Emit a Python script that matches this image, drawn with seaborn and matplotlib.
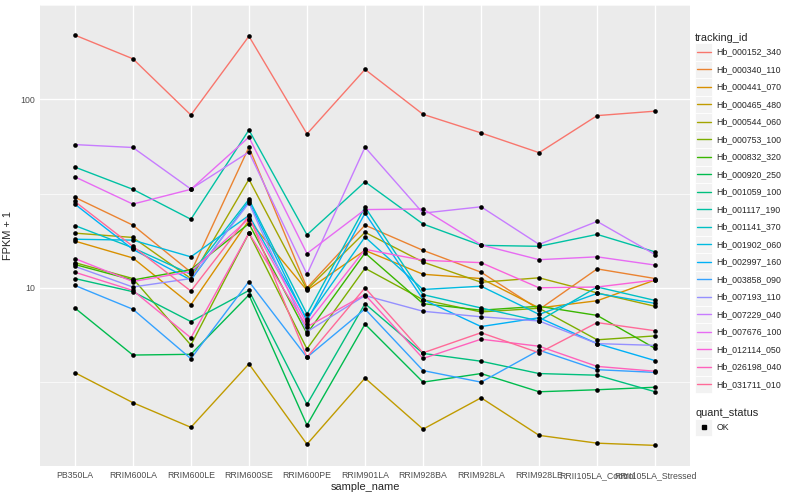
import numpy as np
import pandas as pd
import matplotlib
matplotlib.use("Agg")
import matplotlib.pyplot as plt
import seaborn as sns
from matplotlib.lines import Line2D
from matplotlib.patches import Rectangle
from matplotlib.legend_handler import HandlerBase

# sample order on the x axis
sample_names = ["PB350LA", "RRIM600LA", "RRIM600LE", "RRIM600SE", "RRIM600PE",
                "RRIM901LA", "RRIM928BA", "RRIM928LA", "RRIM928LE",
                "RRII105LA_Control", "RRII105LA_Stressed"]

# FPKM + 1 per transcript
Hb_000152_340 = [219, 164, 82.5, 216, 65.5, 144, 83.2, 66.3, 52.1, 81.9, 86.5]
Hb_000340_110 = [30.2, 21.5, 12.1, 55.7, 10.0, 21.5, 15.8, 12.1, 7.67, 12.6, 11.2]
Hb_000441_070 = [17.7, 14.4, 8.14, 22.8, 9.7, 15.8, 11.8, 11.2, 7.82, 8.54, 11.0]
Hb_000465_480 = [3.55, 2.46, 1.82, 3.95, 1.48, 3.32, 1.78, 2.61, 1.65, 1.50, 1.46]
Hb_000544_060 = [19.5, 18.5, 11.2, 37.6, 9.8, 19.7, 13.7, 10.7, 11.3, 9.4, 7.98]
Hb_000753_100 = [13.6, 11.2, 4.97, 19.5, 4.74, 12.7, 8.64, 7.45, 7.79, 5.30, 5.56]
Hb_000832_320 = [13.3, 11.0, 12.5, 21.9, 5.72, 15.3, 8.24, 7.61, 7.98, 7.14, 4.77]
Hb_000920_250 = [7.82, 4.40, 4.44, 9.17, 1.87, 6.42, 3.16, 3.51, 2.81, 2.88, 2.97]
Hb_001059_100 = [11.2, 9.54, 6.62, 9.68, 2.41, 8.24, 4.49, 4.08, 3.51, 3.44, 2.81]
Hb_001117_190 = [43.7, 33.3, 23.1, 68.7, 19.1, 36.5, 21.8, 16.8, 16.6, 19.2, 15.5]
Hb_001141_370 = [21.4, 16.3, 11.8, 29.5, 7.25, 26.8, 9.2, 7.82, 6.67, 10.1, 8.57]
Hb_001902_060 = [18.1, 17.9, 14.6, 24.2, 6.83, 18.6, 9.8, 10.2, 7.23, 9.34, 8.27]
Hb_002997_160 = [27.8, 16.0, 11.0, 28.8, 6.67, 24.9, 8.67, 6.23, 6.94, 5.06, 4.11]
Hb_003858_090 = [10.3, 7.70, 4.21, 10.8, 4.28, 7.72, 3.64, 3.16, 4.67, 3.68, 3.56]
Hb_007193_110 = [13.0, 10.1, 11.2, 28.2, 5.85, 9.1, 7.51, 7.02, 6.67, 5.06, 4.95]
Hb_007229_040 = [57.5, 55.5, 33.4, 52.5, 11.8, 55.7, 24.9, 26.9, 17.0, 22.5, 15.0]
Hb_007676_100 = [38.8, 27.8, 33.3, 63.0, 15.2, 26.0, 26.2, 16.9, 14.1, 14.6, 13.2]
Hb_012114_050 = [14.3, 10.8, 12.2, 23.3, 6.45, 16.0, 14.0, 13.6, 10.0, 10.1, 11.0]
Hb_026198_040 = [12.1, 9.68, 5.43, 19.5, 6.21, 9.2, 4.22, 5.34, 4.90, 3.83, 3.61]
Hb_031711_010 = [28.7, 16.6, 9.61, 24.1, 4.28, 10.0, 4.52, 5.78, 4.52, 6.54, 5.92]

series = {
    "Hb_000152_340": Hb_000152_340, "Hb_000340_110": Hb_000340_110,
    "Hb_000441_070": Hb_000441_070, "Hb_000465_480": Hb_000465_480,
    "Hb_000544_060": Hb_000544_060, "Hb_000753_100": Hb_000753_100,
    "Hb_000832_320": Hb_000832_320, "Hb_000920_250": Hb_000920_250,
    "Hb_001059_100": Hb_001059_100, "Hb_001117_190": Hb_001117_190,
    "Hb_001141_370": Hb_001141_370, "Hb_001902_060": Hb_001902_060,
    "Hb_002997_160": Hb_002997_160, "Hb_003858_090": Hb_003858_090,
    "Hb_007193_110": Hb_007193_110, "Hb_007229_040": Hb_007229_040,
    "Hb_007676_100": Hb_007676_100, "Hb_012114_050": Hb_012114_050,
    "Hb_026198_040": Hb_026198_040, "Hb_031711_010": Hb_031711_010,
}
ids = list(series.keys())

rows = []
for tid in ids:
    for s, v in zip(sample_names, series[tid]):
        rows.append((s, tid, v, "OK"))
df = pd.DataFrame(rows, columns=["sample_name", "tracking_id", "fpkm1", "quant_status"])


# ggplot-like hue palette (hcl, c=100, l=65)
def hcl_hex(h, c=100.0, l=65.0):
    hr = np.deg2rad(h)
    u, v = c * np.cos(hr), c * np.sin(hr)
    Xn, Yn, Zn = 95.047, 100.0, 108.883
    un = 4 * Xn / (Xn + 15 * Yn + 3 * Zn)
    vn = 9 * Yn / (Xn + 15 * Yn + 3 * Zn)
    Y = Yn * ((l + 16) / 116) ** 3
    up = u / (13 * l) + un
    vp = v / (13 * l) + vn
    X = Y * 9 * up / (4 * vp)
    Z = Y * (12 - 3 * up - 20 * vp) / (4 * vp)
    xyz = np.array([X, Y, Z]) / 100
    m = np.array([[3.2404542, -1.5371385, -0.4985314],
                  [-0.9692660, 1.8760108, 0.0415560],
                  [0.0556434, -0.2040259, 1.0572252]])
    rgb = m @ xyz
    rgb = np.where(rgb <= 0.0031308, 12.92 * rgb, 1.055 * np.power(np.clip(rgb, 0, None), 1 / 2.4) - 0.055)
    rgb = np.clip(rgb, 0, 1)
    return "#%02X%02X%02X" % tuple(int(round(x * 255)) for x in rgb)


hues = np.linspace(15, 375, len(ids) + 1)[:-1]
pal = {tid: hcl_hex(h) for tid, h in zip(ids, hues)}

sns.set_theme(style="darkgrid")
plt.rcParams['font.family'] = ['Liberation Sans', 'DejaVu Sans']

fig = plt.figure(figsize=(8, 5), dpi=100)
ax = fig.add_axes([0.05, 0.068, 0.8125, 0.922])
ax.set_facecolor("#EBEBEB")

sns.lineplot(data=df, x="sample_name", y="fpkm1", hue="tracking_id", palette=pal,
             estimator=None, sort=False, linewidth=1.0, legend=False, ax=ax)
sns.scatterplot(data=df, x="sample_name", y="fpkm1", color="black", s=11,
                linewidth=0, legend=False, ax=ax, zorder=5)

ax.set_yscale("log")
ax.set_ylim(1.135, 281)
ax.set_xlim(-0.6, len(sample_names) - 0.4)
ax.set_yticks([10, 100])
ax.set_yticklabels(["10", "100"])
ax.set_yticks([10 ** 0.5, 10 ** 1.5, 10 ** 2.5], minor=True)
ax.yaxis.set_minor_formatter(matplotlib.ticker.NullFormatter())
ax.grid(which="major", color="white", linewidth=1.0)
ax.grid(which="minor", axis="y", color="white", linewidth=0.5)
for sp in ax.spines.values():
    sp.set_visible(False)
ax.tick_params(axis="both", which="major", length=2.2, width=0.6, color="#333333",
               labelsize=6.3, labelcolor="#4D4D4D", pad=1.5)
ax.tick_params(axis="y", which="minor", length=0)
ax.set_xlabel("sample_name", fontsize=7.9, labelpad=1.5)
ax.set_ylabel("FPKM + 1", fontsize=7.9, labelpad=5)


class KeyHandler(HandlerBase):
    def create_artists(self, legend, orig_handle, xdescent, ydescent, width, height, fontsize, trans):
        bg = Rectangle((-xdescent, -ydescent), width, height, facecolor="#F2F2F2",
                       edgecolor="white", linewidth=0.6, transform=trans)
        ym = -ydescent + height / 2
        if orig_handle.get_marker() in (None, "None", ""):
            ln = Line2D([-xdescent + 0.1 * width, -xdescent + 0.9 * width], [ym, ym],
                        color=orig_handle.get_color(), linewidth=1.0, transform=trans)
        else:
            ln = Line2D([-xdescent + width / 2], [ym], marker="s", markersize=2.6,
                        color="black", linestyle="None", transform=trans)
        return [bg, ln]


line_handles = [Line2D([], [], color=pal[t]) for t in ids]
leg1 = ax.legend(line_handles, ids, loc="upper left", bbox_to_anchor=(0.869, 0.934),
                 bbox_transform=fig.transFigure, title="tracking_id", frameon=False,
                 fontsize=6.3, title_fontsize=7.9, handlelength=1.95, handleheight=2.7,
                 labelspacing=0.0, handletextpad=0.5, borderpad=0, borderaxespad=0,
                 alignment="left", handler_map={Line2D: KeyHandler()})
ax.add_artist(leg1)
pt_handle = [Line2D([], [], marker="s", color="black", linestyle="None")]
leg2 = ax.legend(pt_handle, ["OK"], loc="upper left", bbox_to_anchor=(0.869, 0.183),
                 bbox_transform=fig.transFigure, title="quant_status", frameon=False,
                 fontsize=6.3, title_fontsize=7.9, handlelength=1.95, handleheight=2.7,
                 labelspacing=0.0, handletextpad=0.5, borderpad=0, borderaxespad=0,
                 alignment="left", handler_map={Line2D: KeyHandler()})

fig.savefig("out.png", dpi=100)
